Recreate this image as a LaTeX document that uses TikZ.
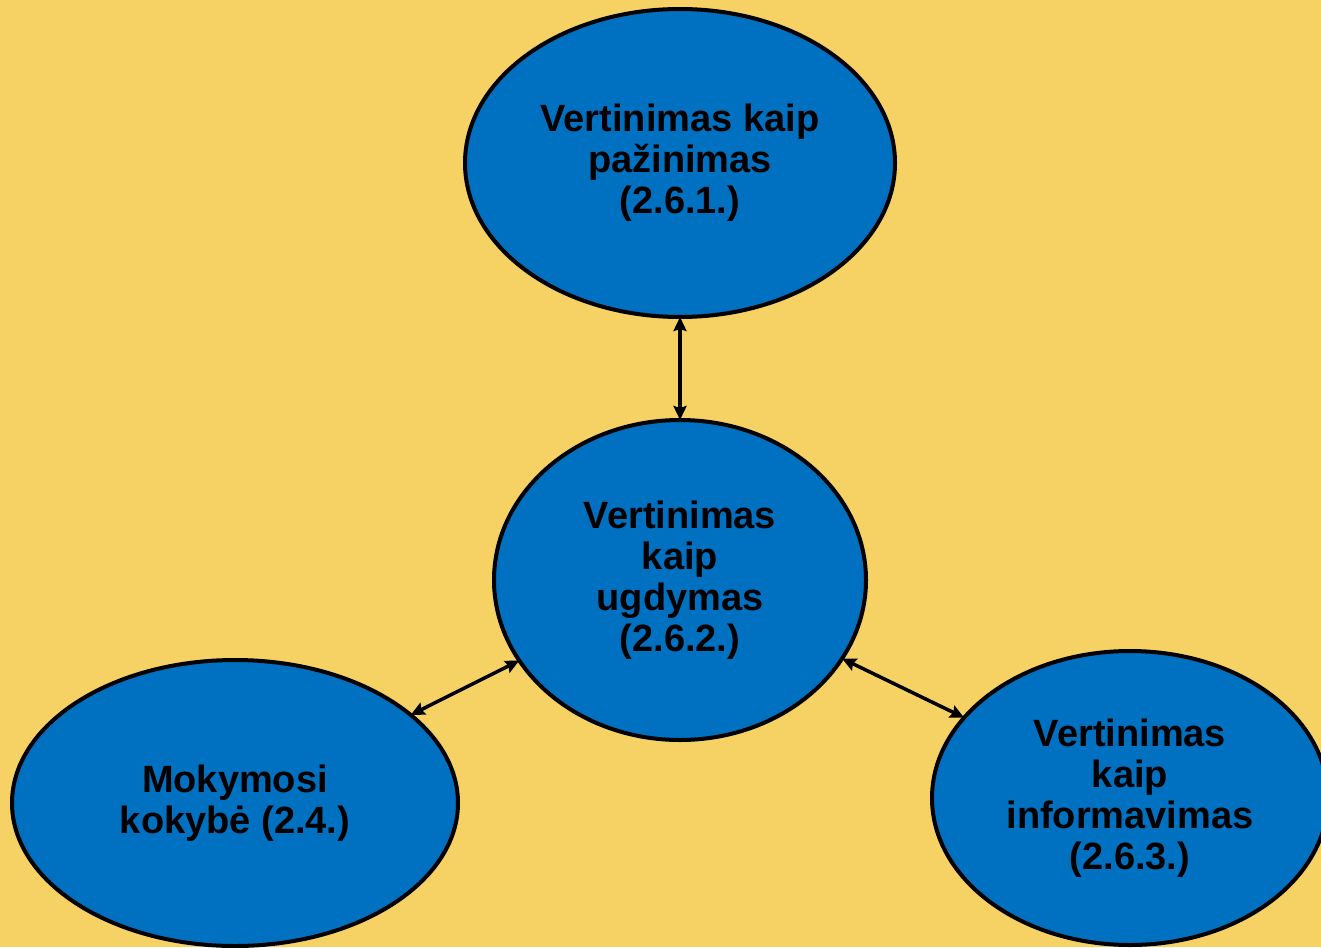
\documentclass[tikz,border=0pt]{standalone}
\usepackage{fontspec}
\setmainfont{Liberation Sans}
\usetikzlibrary{shapes.geometric,arrows.meta}
\definecolor{bg}{RGB}{246,210,100}
\definecolor{ellblue}{RGB}{0,112,192}
\begin{document}
\begin{tikzpicture}[x=1pt,y=-1pt,
  bubble/.style={ellipse,draw=black,line width=4pt,fill=ellblue,inner sep=0pt,outer sep=0pt,
    align=center,font=\fontsize{38}{41}\selectfont\bfseries},
  link/.style={{Stealth[length=14pt,width=13pt,inset=2pt]}-{Stealth[length=14pt,width=13pt,inset=2pt]},line width=3.5pt,draw=black}]
\path[use as bounding box,fill=bg] (0,0) rectangle (1321,947);
\clip (0,0) rectangle (1321,947);
\node[bubble,minimum width=430pt,minimum height=308pt] (top) at (680,163) {Vertinimas kaip\\pažinimas\\(2.6.1.)};
\node[bubble,minimum width=372pt,minimum height=320pt] (mid) at (680,580) {Vertinimas\\kaip\\ugdymas\\(2.6.2.)};
\node[bubble,minimum width=446pt,minimum height=286pt] (left) at (235,803) {Mokymosi\\kokybė (2.4.)};
\node[bubble,minimum width=396pt,minimum height=294pt] (right) at (1130,798) {Vertinimas\\kaip\\informavimas\\(2.6.3.)};
\draw[link] (top) -- (mid);
\draw[link] (left) -- (mid);
\draw[link] (mid) -- (right);
\end{tikzpicture}
\end{document}
